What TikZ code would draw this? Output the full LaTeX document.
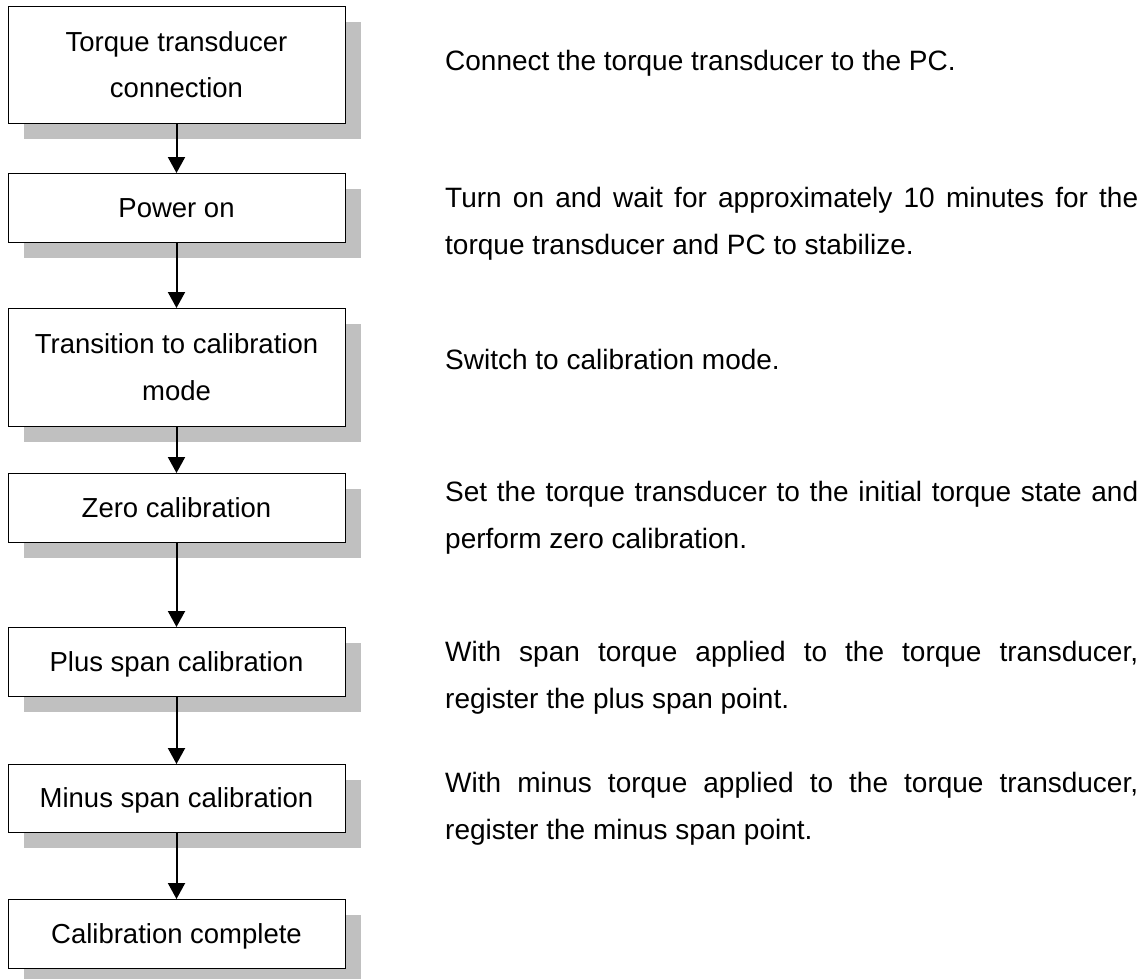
\documentclass[tikz,border=0pt]{standalone}
\usepackage{fontspec}
\setmainfont{Liberation Sans}
\usetikzlibrary{arrows.meta,shadows}
\definecolor{shadowgray}{RGB}{192,192,192}
\tikzset{
  stepbox/.style={draw=black, line width=1pt, fill=white, inner sep=0pt, outer sep=0pt,
    minimum width=337pt, align=center,
    font=\fontsize{27.5}{46.5}\selectfont,
    drop shadow={shadow xshift=16pt, shadow yshift=-16pt, fill=shadowgray, opacity=1}},
  oneline/.style={text height=19.7pt, text depth=0pt},
  twoline/.style={text height=66.2pt, text depth=0pt},
  flow/.style={line width=2pt, -{Triangle[width=17pt,length=16pt]}},
  desc/.style={anchor=base west, inner sep=0pt, font=\fontsize{28}{46}\selectfont}
}
\begin{document}
\begin{tikzpicture}[x=1pt,y=-1pt]
\useasboundingbox (0,0) rectangle (1147,978);
\node[stepbox, twoline, minimum height=117pt] (b1) at (176.5,64.5) {Torque transducer\\connection};
\node[stepbox, oneline, minimum height=69pt] (b2) at (176.5,207.5) {Power on};
\node[stepbox, twoline, minimum height=118pt] (b3) at (176.5,367) {Transition to calibration\\mode};
\node[stepbox, oneline, minimum height=69pt] (b4) at (176.5,507.5) {Zero calibration};
\node[stepbox, oneline, minimum height=69pt] (b5) at (176.5,661.5) {Plus span calibration};
\node[stepbox, oneline, minimum height=68pt] (b6) at (176.5,798) {Minus span calibration};
\node[stepbox, oneline, minimum height=69pt] (b7) at (176.5,933.5) {Calibration complete};
\draw[flow] (b1) -- (b2);
\draw[flow] (b2) -- (b3);
\draw[flow] (b3) -- (b4);
\draw[flow] (b4) -- (b5);
\draw[flow] (b5) -- (b6);
\draw[flow] (b6) -- (b7);
\node[desc] (t1) at (445,70) {Connect the torque transducer to the PC.};
\node[desc] (t2a) at (445,207) {\makebox[693pt][s]{Turn on and wait for approximately 10 minutes for the}};
\node[desc] (t2b) at (445,254) {torque transducer and PC to stabilize.};
\node[desc] (t3) at (445,369) {Switch to calibration mode.};
\node[desc] (t4a) at (445,501) {\makebox[693pt][s]{Set the torque transducer to the initial torque state and}};
\node[desc] (t4b) at (445,548) {perform zero calibration.};
\node[desc] (t5a) at (445,661) {\makebox[693pt][s]{With span torque applied to the torque transducer,}};
\node[desc] (t5b) at (445,708) {register the plus span point.};
\node[desc] (t6a) at (445,792) {\makebox[693pt][s]{With minus torque applied to the torque transducer,}};
\node[desc] (t6b) at (445,839) {register the minus span point.};
\end{tikzpicture}
\end{document}
